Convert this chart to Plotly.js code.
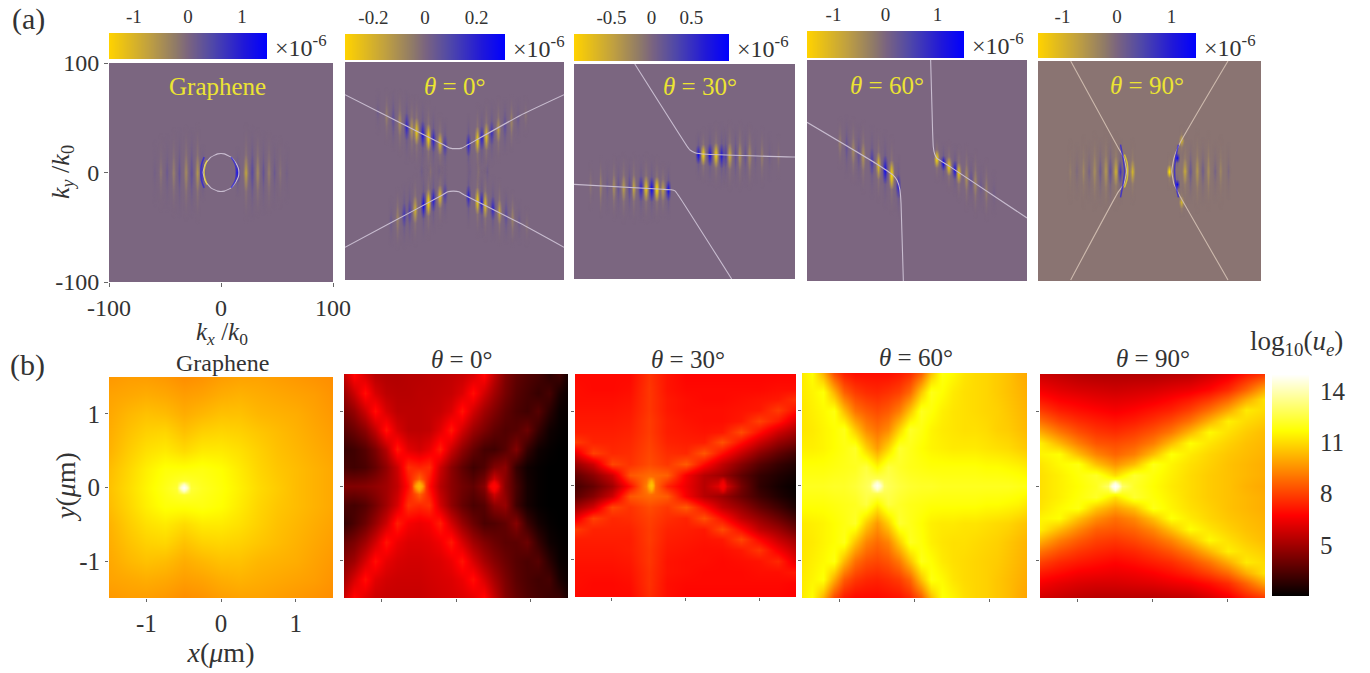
<!DOCTYPE html>
<html><head><meta charset="utf-8">
<script src="https://cdn.plot.ly/plotly-3.0.1.min.js"></script>
<style>html,body{margin:0;padding:0;background:#fff;overflow:hidden}</style>
</head><body><div id="chart" style="width:1370px;height:673px"></div>
<script>
// ---------- tick labels ----------
const kTicks=[-100,0,100], kLabels=['-100','0','100'];
const uTicks=[-1,0,1], uLabels=['-1','0','1'];
const logTicks=[5,8,11,14], logLabels=['5','8','11','14'];
const cbTicks=[[-1,0,1],[-0.2,0,0.2],[-0.5,0,0.5],[-1,0,1],[-1,0,1]];
const cbLabels=[['-1','0','1'],['-0.2','0','0.2'],['-0.5','0','0.5'],['-1','0','1'],['-1','0','1']];
const cbRange=[1.46,0.31,0.97,1.51,1.45];
const panelNames=['Graphene','<i>θ</i> = 0°','<i>θ</i> = 30°','<i>θ</i> = 60°','<i>θ</i> = 90°'];

// ---------- (a) dispersion contours [kx],[ky] ----------
const lines0=[[[-16,-14,-9,-3,3,9,13,15.5,16,15.5,13,9,3,-3,-9,-14,-16],[0,8,14,17,17,14,9,4,0,-4,-9,-14,-17,-17,-14,-8,0]]];
const lines1=[[[-100,-59,-10,-4,1,6.6,12,60,100],[70,49,24,21,20.5,21,24,51,70]],[[-100,-59,-11,-6,-1,4,9,60,100],[-70,-48,-22,-19,-18.5,-19,-22,-48,-70]]];
const lines2=[[[-45,2,5,9.5,20,98,100],[100,24,20,17.5,16,13.5,13.5]],[[-100,-20,-12,-8.6,-5,42.7],[-12,-16.5,-17,-18,-23,-100]]];
const lines3=[[[12.4,14.2,14.8,16,18,30,100],[100,35,21.5,15,11.3,3.5,-43]],[[-100,-38,-22,-18,-15.5,-14.5,-12.4],[43.6,6.8,-4,-9,-17.6,-30,-100]]];
const lines4=[[[-70.7,-28,-23,-20.5,-23,-28,-70.7],[100,21,12,0,-12,-19,-99]],[[70.4,27.4,22,20,22,27.4,70.4],[100,25.5,12,0,-12,-23,-99]]];
const panelLines=[lines0,lines1,lines2,lines3,lines4];

// ---------- (a) coloured crescents on the contours: [kx],[ky],sign ----------
const arcs0=[[[-15,-17.5,-18,-17.5,-15],[14,7,0,-7,-14],1],[[-12.5,-14.5,-15,-14.5,-12.5],[11,5,0,-5,-11],-1],[[9,12.5,14,12.5,9],[14,8,0,-8,-14],1]];
const arcs4=[[[-26,-23.5,-22.5,-23.5,-26],[24,10,0,-10,-24],1],[[-22.5,-20,-19.5,-20,-22.5],[15,7,0,-7,-15],-1],[[26,23.5,22.5,23.5,26],[24,12,0,-12,-24],1]];
const panelArcs=[arcs0,[],[],[],arcs4];

// ---------- (a) interference fringes: [kx, ky, half height, amplitude] ----------
const fringes0=[[-17,0,22,.6],[14,0,20,.8],[-21.7,0,38,-.4],[-27,0,34,.25],[-32,0,36,-.3],[-38,0,34,.2],[-43,0,34,-.22],[-49,0,30,.16],[-54.5,0,30,-.16],[-60,0,26,.1],[21.5,0,38,-.5],[27,0,36,.3],[32,0,34,-.3],[37,0,32,.2],[42,0,32,-.22],[47,0,28,.16],[52,0,28,-.14],[58,0,24,.1]];
const fringes1=[[-8.7,23.4,22,.5],[-13.3,25.7,24,-.7],[-19.3,28.8,26,.7],[-23.9,31,28,-.9],[-29,33.8,28,.85],[-34.6,36.6,28,-.8],[-43.7,41,28,.7],[-39,39,26,-.45],[-50,44.5,26,-.35],[-56,47.5,24,.25],[-62,50.6,22,-.22],[-70,54.7,18,.14],
[12.7,24.4,24,.7],[20.9,28.6,28,-.8],[24.9,30.6,26,.7],[29,32.2,28,-.7],[34,35.3,26,.55],[40,38.3,26,-.45],[46,41.4,22,.28],[52,44.5,22,-.24],[58,47.5,18,.16],[65,51,16,-.14],
[-8.7,-21,22,.45],[-13.3,-23,24,-.75],[-19.3,-26,26,.75],[-23.9,-28.5,28,-.9],[-28.4,-31,28,.9],[-36,-35,28,-.6],[-41,-37,26,.4],[-46,-40,26,.5],[-52,-43,24,-.25],[-58,-46,20,.16],
[12.7,-23,24,.7],[20.9,-27,28,-.8],[24.9,-29,26,.8],[28,-30.5,28,-.7],[35,-34,26,.7],[41,-37,26,-.5],[47,-40,22,.28],[53,-43,22,-.24],[59,-46,18,.16],[66,-50,16,-.14],
[-30,0,18,.12],[-22,0,18,-.12],[-14,0,16,.1],[14,0,16,.1],[22,0,18,-.12],[30,0,18,.12]];
const fringes2=[[12.5,16,20,.9],[17,16,22,-.9],[23,15.5,24,.9],[28.5,15.5,26,-.9],[33.6,15,26,.8],[37,15,24,.4],[41,15,28,-.6],[46,15,24,.25],[50,15,28,-.4],[55,15,24,.2],[59,14.5,26,-.3],[64,14,22,.14],[70,14,24,-.22],[77,14,20,.12],[85,14,18,-.14],
[-14.6,-17,22,.9],[-19.5,-16.5,22,-.5],[-25,-16,26,-1],[-29.7,-16,26,.95],[-34.8,-15.5,28,-.8],[-39.4,-15.5,26,.7],[-46,-15,28,-.55],[-50,-15,24,.3],[-55,-15,28,-.45],[-60,-14.5,24,.2],[-64,-14.5,26,-.35],[-70,-14,22,.15],[-76,-14,24,-.25],[-85,-13,20,-.15]];
const fringes3=[[-17,-14,24,.7],[-23,-4,30,-1],[-29,.5,30,.95],[-35,5,28,-.7],[-41,8.5,28,.5],[-49,13,28,-.4],[-53,15,24,.22],[-58,18,26,-.3],[-64,22,24,.22],[-70,25,20,-.22],
[18,11,18,-1],[24,7,16,1],[29,4,20,-.9],[34.5,1,20,.9],[38,-2,22,-.8],[45,-6,26,-.35],[49,-8,20,.22],[53,-11,26,-.3],[58,-14,20,.16],[63,-17,24,-.22],[70,-20,18,.12]];
const fringes4=[[-16,0,25,-.6],[-31,0,30,-.55],[-27,0,25,.55],[-36,0,28,.3],[-40,0,32,-.35],[-45,0,26,.22],[-50,0,30,-.25],[-55,0,24,.16],[-60,0,28,-.2],[-66,0,22,.12],[-72,0,25,-.14],
[17,0,14,-1],[24,12,10,1],[24,-12,10,1],[31,0,28,-.5],[36,0,24,.25],[42,0,32,-.35],[47,0,26,.2],[52,0,30,-.25],[58,0,24,.16],[63,0,28,-.2],[70,0,22,.12],[28,28,12,-.6],[28,-28,12,-.6]];
const panelFringes=[fringes0,fringes1,fringes2,fringes3,fringes4];

// ---------- (b) log10(u_e) grids, rows listed top to bottom ----------
const xGridCoarse=[-1.5,-1.25,-1,-.75,-.5,-.25,0,.25,.5,.75,1,1.25,1.5];
const yGridCoarse=[1.5,1.25,1,.75,.5,.25,0,-.25,-.5,-.75,-1,-1.25,-1.5];
const xGridSteep=[-1.515,-1.37,-1.225,-1.08,-.935,-.79,-.645,-.5,-.355,-.21,-.065,.08,.225,.37,.515,.66,.805,.95,1.095,1.24,1.385,1.53];
const yGridFlat=[1.5,1.305,1.16,1.015,.87,.725,.58,.435,.29,.145,0,-.145,-.29,-.435,-.58,-.725,-.87,-1.015,-1.16,-1.305,-1.5];
const uGraphene=[
[9.7,9.8,9.8,9.7,9.5,9.6,9.8,9.9,9.9,9.8,9.7,9.6,9.5],
[9.9,10,10.1,10,9.8,9.9,10.1,10.2,10.1,10,9.9,9.8,9.6],
[10,10.3,10.5,10.4,10.1,10.3,10.5,10.5,10.3,10.2,10.1,9.9,9.7],
[10.1,10.5,10.8,10.9,10.5,10.8,10.9,10.8,10.6,10.4,10.2,10,9.8],
[10.2,10.7,11.1,11.3,11,11.3,11.3,11.1,10.8,10.5,10.3,10.1,9.9],
[10.4,10.9,11.4,11.8,11.8,11.9,11.7,11.3,10.9,10.6,10.4,10.2,10],
[10.5,11,11.5,12,12.6,12.1,11.8,11.4,11,10.7,10.4,10.2,10],
[10.4,10.9,11.4,11.8,11.8,11.9,11.7,11.3,10.9,10.6,10.4,10.2,10],
[10.2,10.7,11.1,11.3,11,11.3,11.3,11.1,10.8,10.5,10.3,10.1,9.9],
[10.1,10.5,10.8,10.9,10.5,10.8,10.9,10.8,10.6,10.4,10.2,10,9.8],
[10,10.3,10.5,10.4,10.1,10.3,10.5,10.5,10.3,10.2,10.1,9.9,9.7],
[9.9,10,10.1,10,9.8,9.9,10.1,10.2,10.1,10,9.9,9.8,9.6],
[9.7,9.8,9.8,9.7,9.5,9.6,9.8,9.9,9.9,9.8,9.7,9.6,9.5]];
const uTheta0=[
[5.6,6.9,6.0,5.4,5.3,5.3,5.4,5.4,5.5,5.5,5.6,5.7,6.0,6.9,5.6,4.4,3.8,3.5,3.3,2.8,3.2,2.2],
[4.8,5.8,7.0,6.0,5.5,5.4,5.4,5.5,5.5,5.6,5.7,6.1,7.0,5.9,5.0,4.2,3.6,3.3,3.0,3.3,2.5,2.1],
[4.2,4.8,5.8,7.0,6.0,5.5,5.5,5.5,5.6,5.7,6.1,7.1,5.9,5.0,4.4,3.8,3.4,3.2,3.6,2.8,2.2,2.1],
[3.6,4.0,4.6,5.6,7.1,6.0,5.5,5.5,5.6,6.2,7.2,5.9,4.9,4.3,3.8,3.5,3.6,4.0,3.0,2.3,2.1,2.0],
[3.0,3.2,3.6,4.3,5.4,7.2,6.2,5.9,6.3,7.3,5.8,4.7,3.9,3.3,3.2,3.6,4.4,3.0,2.3,2.1,2.0,2.0],
[3.3,3.2,3.4,3.9,4.7,5.8,7.6,7.4,7.6,5.8,4.6,3.8,3.2,3.5,4.4,4.6,3.0,2.3,2.1,2,2,2],
[4.4,4.4,4.5,4.7,5.0,5.6,7.0,9.5,7.0,5.4,4.6,4.1,3.8,4.5,6.8,4.5,3.3,2.4,2.1,2,2,2],
[3.4,3.3,3.6,4.2,5.0,6.0,7.7,7.5,7.7,5.9,4.7,3.9,3.4,3.6,4.6,4.8,3.2,2.4,2.1,2,2,2],
[2.9,3.4,4.0,4.8,5.8,7.3,6.6,6.4,6.6,7.3,5.9,4.8,4.0,3.4,3.5,3.8,4.5,3.1,2.4,2.1,2,2],
[3.9,4.3,5.0,5.9,7.1,6.4,6.1,6.1,6.2,6.5,7.2,6.0,5.0,4.4,4.0,3.7,3.7,4.0,3.0,2.3,2.1,2],
[4.5,5.0,6.0,7.0,6.3,6.0,5.9,5.9,6.0,6.1,6.4,7.1,6.0,5.1,4.5,4.0,3.6,3.4,3.6,2.8,2.2,2.1],
[5.0,6.0,7.0,6.2,5.9,5.8,5.8,5.8,5.9,6.0,6.1,6.4,7.0,6.0,5.1,4.3,3.7,3.4,3.2,3.3,2.5,2.1],
[5.8,6.9,6.2,5.8,5.7,5.7,5.7,5.7,5.8,5.9,6.0,6.1,6.3,6.9,5.7,4.5,3.9,3.5,3.3,3.1,3.1,2.3]];
const uTheta30=[
[6.9,6.9,6.9,6.9,7.7,7.1,6.8,6.8,6.8,6.8,6.8,6.8,6.8],
[7.0,6.9,6.9,7.0,7.8,7.1,6.9,6.9,6.9,6.9,6.9,7.0,7.0],
[7.0,7.0,7.0,7.1,7.8,7.2,7.0,6.9,6.9,7.0,7.1,7.2,7.7],
[7.1,7.1,7.1,7.2,7.8,7.2,7.0,7.0,7.0,7.1,7.2,7.9,7.0],
[7.2,7.2,7.2,7.3,7.9,7.3,7.1,7.0,7.0,7.2,8.0,7.2,6.0],
[7.3,7.3,7.3,7.4,7.9,7.3,7.2,7.1,7.2,8.2,7.0,5.8,5.0],
[7.9,7.4,7.4,7.5,8.0,7.4,7.3,7.3,8.3,7.0,5.8,4.8,4.2],
[6.2,8.0,7.5,7.6,8.1,7.6,7.5,8.4,7.0,5.7,4.6,3.8,3.2],
[4.8,5.8,8.1,7.7,8.2,7.8,8.5,6.9,5.6,4.5,3.6,3.0,2.6],
[3.8,4.6,5.8,8.4,8.8,8.6,6.6,5.4,4.9,3.8,3.0,2.6,2.3],
[3.3,3.9,5.0,7.0,9.6,7.4,6.4,5.4,6.4,4.2,2.9,2.4,2.1],
[3.7,4.5,5.8,8.4,8.8,8.5,6.6,5.4,4.9,4.0,3.2,2.6,2.2],
[4.9,5.9,8.1,7.7,8.2,7.8,8.5,7.0,5.6,4.8,3.9,3.2,2.5],
[6.3,8.0,7.5,7.6,8.0,7.6,7.4,8.3,7.0,5.6,4.8,4.0,3.2],
[7.9,7.4,7.4,7.4,7.9,7.4,7.3,7.2,8.2,6.9,5.6,4.9,4.0],
[7.3,7.3,7.3,7.3,7.9,7.3,7.2,7.1,7.2,8.1,6.8,5.7,4.9],
[7.2,7.2,7.2,7.3,7.8,7.2,7.1,7.0,7.0,7.2,7.8,6.6,5.6],
[7.1,7.1,7.1,7.2,7.8,7.1,7.0,7.0,6.9,7.0,7.1,7.5,6.2],
[7.0,7.0,7.0,7.1,7.7,7.1,7.0,6.9,6.9,6.9,7.0,7.0,7.2],
[7.0,6.9,6.9,7.0,7.7,7.0,6.9,6.9,6.9,6.9,6.9,6.9,6.8],
[6.9,6.9,6.9,6.9,7.6,7.0,6.8,6.8,6.8,6.8,6.8,6.8,6.7]];
const uTheta60=[
[11.3,11.7,10.2,8.2,7.3,7.0,7.0,7.0,7.0,7.2,7.6,8.6,10.5,11.9,11.6,11.2,11,10.9,10.7,10.5,10.2,10],
[11.3,11.5,11.8,10.2,8.6,7.9,7.6,7.5,7.7,8.0,8.8,10.6,12.0,11.7,11.3,11.1,11,10.9,10.7,10.5,10.3,10.1],
[11.2,11.4,11.6,11.9,10.4,9.0,8.5,8.2,8.5,9.2,10.6,12.1,11.8,11.4,11.2,11.1,11.0,10.9,10.8,10.6,10.4,10.2],
[11.2,11.3,11.5,11.7,12.0,10.6,9.4,8.9,9.4,10.8,12.2,11.9,11.5,11.3,11.2,11.1,11.1,11,10.8,10.7,10.5,10.3],
[11.4,11.4,11.5,11.7,11.9,12.2,10.8,9.8,10.9,12.3,12.0,11.7,11.5,11.4,11.3,11.3,11.3,11.2,11.1,11,10.8,10.6],
[11.8,11.8,11.8,11.9,12.0,12.1,12.5,11.6,12.5,12.2,12.0,11.9,11.8,11.8,11.8,11.8,11.8,11.7,11.7,11.6,11.5,11.3],
[12.1,12.1,12.1,12.2,12.2,12.4,12.8,13.5,12.8,12.5,12.3,12.2,12.2,12.1,12.1,12.1,12.1,12.1,12.1,12.1,12,11.9],
[11.8,11.8,11.8,11.9,12.0,12.1,12.5,11.5,12.5,12.2,12.0,11.9,11.8,11.8,11.8,11.8,11.8,11.7,11.7,11.6,11.5,11.2],
[11.3,11.4,11.5,11.7,11.9,12.2,10.7,9.7,10.8,12.3,12.0,11.7,11.4,11.3,11.3,11.2,11.2,11.1,11,10.9,10.7,10.5],
[11.2,11.3,11.5,11.7,12.0,10.5,9.3,8.8,9.3,10.7,12.1,11.8,11.4,11.2,11.1,11.1,11,10.9,10.8,10.6,10.4,10.2],
[11.2,11.4,11.6,11.9,10.3,8.9,8.3,8.1,8.4,9.1,10.5,12.0,11.7,11.3,11.1,11,10.9,10.8,10.7,10.5,10.3,10.1],
[11.3,11.5,11.8,10.1,8.5,7.8,7.5,7.4,7.6,7.9,8.7,10.5,11.9,11.6,11.2,11,10.9,10.8,10.6,10.4,10.2,10],
[11.3,11.7,10.2,8.1,7.2,6.9,6.9,6.9,7.0,7.1,7.5,8.5,10.4,11.8,11.5,11.1,10.9,10.8,10.6,10.4,10.1,9.9]];
const uTheta90=[
[5.8,5.6,5.4,5.3,5.3,5.3,5.3,5.4,5.5,5.9,6.4,7.2,7.8],
[6.5,6.2,6.0,5.9,5.8,5.9,6.0,6.2,6.4,6.8,7.5,8.6,10.0],
[7.1,6.7,6.5,6.3,6.2,6.3,6.5,6.8,7.2,7.8,8.7,10.0,11.2],
[7.9,7.3,7.0,6.8,6.6,6.8,7.1,7.4,8.0,8.9,10.0,11.3,11.0],
[8.9,8.1,7.6,7.3,7.1,7.3,7.7,8.2,9.0,10.2,11.4,11.0,10.7],
[10.1,9.1,8.3,7.8,7.6,7.9,8.4,9.1,10.3,11.6,11.1,10.7,10.4],
[11.4,10.3,9.2,8.4,8.2,8.5,9.2,10.4,11.7,11.2,10.8,10.5,10.3],
[11.5,11.7,10.4,9.3,8.7,9.2,10.4,11.8,11.3,10.9,10.6,10.4,10.2],
[11.2,11.6,11.9,10.5,9.6,10.4,12.0,11.5,11.1,10.8,10.5,10.3,10.1],
[11.1,11.4,11.8,12.2,11,12.3,11.8,11.4,11,10.7,10.5,10.3,10.1],
[11.1,11.4,11.7,12.1,13.6,12.2,11.7,11.3,11,10.7,10.5,10.2,10],
[11.1,11.4,11.8,12.2,11.1,12.3,11.8,11.4,11,10.7,10.5,10.3,10.1],
[11.2,11.6,11.9,10.6,9.8,10.5,12,11.5,11.1,10.8,10.5,10.3,10.1],
[11.5,11.7,10.5,9.5,8.9,9.4,10.5,11.8,11.3,10.9,10.6,10.4,10.2],
[11.4,10.4,9.4,8.6,8.4,8.7,9.4,10.5,11.7,11.2,10.8,10.5,10.3],
[10.2,9.2,8.5,8,7.8,8.1,8.6,9.3,10.4,11.6,11.1,10.7,10.4],
[9,8.3,7.8,7.5,7.3,7.5,7.9,8.4,9.2,10.3,11.4,11,10.7],
[8,7.5,7.2,7,6.8,7,7.3,7.6,8.2,9,10.1,11.3,11],
[7.2,6.9,6.6,6.5,6.4,6.5,6.7,7,7.4,8,8.8,10.1,11.2],
[6.6,6.3,6.1,6,6,6.1,6.2,6.4,6.6,7,7.6,8.7,10],
[5.9,5.7,5.5,5.4,5.4,5.4,5.4,5.5,5.6,6,6.5,7.3,7.8]];
const uGrids=[uGraphene,uTheta0,uTheta30,uTheta60,uTheta90];
const xGrids=[xGridCoarse,xGridSteep,xGridCoarse,xGridSteep,xGridCoarse];
const yGrids=[yGridCoarse,yGridCoarse,yGridFlat,yGridCoarse,yGridFlat];
// bright source spots: [x, y, log10 u]
const spots=[[[-.5,0,15]],[[-.5,0,10.3],[.5,0,6.8]],[[-.47,0,10.6],[.5,0,6.6]],[[-.5,0,14.8]],[[-.5,0,15]]];

// ---------- geometry (pixels) and style ----------
const W=1370,H=673,SERIF='"Liberation Serif","Times New Roman",serif',INK='#333333';
const topBoxes=[[109,333,63,282],[345,564,62,280],[574,795,64,279],[807,1027,60,281],[1038,1261,61,281]];
const cbBoxes=[[109,267,33,59],[345,505,34,60],[574,729,34,61],[807,964,31,58],[1038,1196,33,58]];
const botBoxes=[[109,333,377,598],[344,568,374,598],[575,796,374,597],[802,1027,373,598],[1040,1265,374,598]];
const logBox=[1272,1309,374,596];
const bgColors=['#7b6680','#7b6680','#7b6680','#7c6680','#8a7472'];
const lineColors=['#c8bccf','#c8bccf','#c8bccf','#c8bccf','#cdb9ad'];
const divScale=[[0,'#ffd200'],[.25,'#c0a040'],[.42,'#8f7a68'],[.5,'#7a6480'],[.65,'#5048a8'],[.85,'#2018d8'],[1,'#0000ff']];
const fringeScale=[[0,'rgba(255,225,0,1)'],[.25,'rgba(230,200,20,.7)'],[.42,'rgba(200,170,70,.28)'],[.5,'rgba(123,102,128,0)'],[.58,'rgba(60,50,190,.28)'],[.75,'rgba(40,30,210,.7)'],[1,'rgba(0,0,255,1)']];
const hotScale=[[0,'#000000'],[.365,'#ff0000'],[.746,'#ffff00'],[1,'#ffffff']];
function hotRGB(z){const t=(z-2)/13;const r=Math.min(1,t/.365),g=Math.max(0,Math.min(1,(t-.365)/.381)),b=Math.max(0,(t-.746)/.254);return [r,g,b].map(v=>Math.round(v*255)).join(',');}

const traces=[];const annotations=[];
const layout={width:W,height:H,margin:{l:0,r:0,t:0,b:0},paper_bgcolor:'#ffffff',plot_bgcolor:'#ffffff',showlegend:false,font:{family:SERIF,color:INK},annotations};
function setAxes(n,box,xo,yo){
  layout['xaxis'+n]=Object.assign({domain:[box[0]/W,box[1]/W],anchor:'y'+n,showgrid:false,zeroline:false,fixedrange:true},xo);
  layout['yaxis'+n]=Object.assign({domain:[1-box[3]/H,1-box[2]/H],anchor:'x'+n,showgrid:false,zeroline:false,fixedrange:true},yo);
}
function note(text,px,py,size,color,extra){annotations.push(Object.assign({text,x:px/W,y:1-py/H,xref:'paper',yref:'paper',showarrow:false,xanchor:'center',yanchor:'middle',font:{family:SERIF,size,color}},extra||{}));}
const hidden={visible:false};
const TICK=25, CLEAR='rgba(0,0,0,0)';
let n=1;
// ----- row (a) -----
for(let p=0;p<5;p++){
  const ax={xaxis:'x'+n,yaxis:'y'+n};
  const isFirst=p===0;
  const kAxis={tickmode:'array',tickvals:kTicks,ticktext:kLabels,ticks:'outside',ticklen:4,tickcolor:'#666',tickfont:{size:TICK-1,color:INK,family:SERIF}};
  setAxes(n,topBoxes[p],
   Object.assign({range:[-100,100]},isFirst?kAxis:{showticklabels:false,ticks:''}),
   Object.assign({range:[-100,100]},isFirst?kAxis:{showticklabels:false,ticks:''}));
  traces.push(Object.assign({type:'heatmap',x:[-100,100],y:[-100,100],z:[[0,0],[0,0]],colorscale:[[0,bgColors[p]],[1,bgColors[p]]],showscale:false,hoverinfo:'skip'},ax));
  panelFringes[p].forEach(f=>{
    const [fx,fy,fh,fa]=f, w=2.7, h=fh*1.25;
    const mid=Math.sign(fa)*Math.min(.55*Math.abs(fa),.14);
    traces.push(Object.assign({type:'heatmap',zsmooth:'best',x:[fx-w,fx,fx+w],y:[fy-h,fy-.35*h,fy,fy+.35*h,fy+h],
      z:[[0,0,0],[0,mid,0],[0,fa,0],[0,mid,0],[0,0,0]],zmin:-1,zmax:1,colorscale:fringeScale,showscale:false,hoverinfo:'skip'},ax));
  });
  panelLines[p].forEach(l=>traces.push(Object.assign({type:'scatter',mode:'lines',x:l[0],y:l[1],line:{color:lineColors[p],width:1.1,shape:'spline',smoothing:.4},hoverinfo:'skip'},ax)));
  panelArcs[p].forEach(a=>traces.push(Object.assign({type:'scatter',mode:'lines',opacity:.7,x:a[0],y:a[1],line:{color:a[2]>0?'#2a20e0':'#f2e020',width:1.5,shape:'spline'},hoverinfo:'skip'},ax)));
  n++;
  // colour bar above the panel
  const r=cbRange[p];
  setAxes(n,cbBoxes[p],{range:[-r,r],side:'top',tickmode:'array',tickvals:cbTicks[p],ticktext:cbLabels[p],ticks:'outside',ticklen:1,tickcolor:CLEAR,tickfont:{size:19,color:INK,family:SERIF}},Object.assign({range:[0,1]},hidden));
  traces.push({type:'heatmap',zsmooth:'best',x:[-r,r],y:[0,1],z:[[-r,r],[-r,r]],zmin:-r,zmax:r,colorscale:divScale,showscale:false,hoverinfo:'skip',xaxis:'x'+n,yaxis:'y'+n});
  note('×10<sup>-6</sup>',cbBoxes[p][1]+34,cbBoxes[p][2]+13,24,INK);
  n++;
}
note('<i>k</i><sub><i>x</i></sub> /<i>k</i><sub>0</sub>',222,333,25,INK);
note('<i>k</i><sub><i>y</i></sub> /<i>k</i><sub>0</sub>',62,172,26,INK,{textangle:-90});
note('Graphene',217,86,25,'#ece432');
note(panelNames[1],454,87,25,'#ece432');
note(panelNames[2],700,87,25,'#ece432');
note(panelNames[3],887,85,25,'#ece432');
note(panelNames[4],1147,85,25,'#ece432');
// ----- row (b) -----
const titleX=[222,461,688,916,1153],titleY=[363,359,359,357,358];
for(let p=0;p<5;p++){
  const isFirst=p===0;
  const tickBase={range:[-1.5,1.5],tickmode:'array',tickvals:uTicks,ticktext:uLabels,ticks:'outside',ticklen:3,tickcolor:'#666'};
  setAxes(n,botBoxes[p],
    Object.assign({},tickBase,isFirst?{tickfont:{size:TICK,color:INK,family:SERIF},title:{text:'<i>x</i>(<i>μ</i>m)',font:{size:28,color:INK,family:SERIF},standoff:4}}:{showticklabels:false}),
    Object.assign({},tickBase,isFirst?{tickfont:{size:TICK,color:INK,family:SERIF}}:{showticklabels:false}));
  const ax={xaxis:'x'+n,yaxis:'y'+n};
  traces.push(Object.assign({type:'heatmap',zsmooth:'best',x:xGrids[p],y:yGrids[p].slice().reverse(),z:uGrids[p].slice().reverse(),zmin:2,zmax:15,colorscale:hotScale,showscale:false,hoverinfo:'skip'},ax));
  spots[p].forEach(s=>{
    const c=hotRGB(s[2]),rx=p===2?.06:.09,ry=p===2?.12:.1;
    traces.push(Object.assign({type:'heatmap',zsmooth:'best',x:[s[0]-rx,s[0],s[0]+rx],y:[s[1]-ry,s[1],s[1]+ry],z:[[0,0,0],[0,1,0],[0,0,0]],zmin:0,zmax:1,colorscale:[[0,'rgba('+c+',0)'],[.5,'rgba('+c+',.7)'],[1,'rgba('+c+',1)']],showscale:false,hoverinfo:'skip'},ax));
  });
  note(panelNames[p],titleX[p],titleY[p],isFirst?24:25,INK);
  n++;
}
note('<i>y</i>(<i>μ</i>m)',65,487,28,INK,{textangle:-90});
// log colour bar
setAxes(n,logBox,Object.assign({range:[0,1]},hidden),{range:[2,15],side:'right',tickmode:'array',tickvals:logTicks,ticktext:logLabels,ticks:'outside',ticklen:5,tickcolor:CLEAR,tickfont:{size:TICK,color:INK,family:SERIF}});
traces.push({type:'heatmap',zsmooth:'best',x:[0,1],y:[2,15],z:[[2,2],[15,15]],zmin:2,zmax:15,colorscale:hotScale,showscale:false,hoverinfo:'skip',xaxis:'x'+n,yaxis:'y'+n});
note('log<sub>10</sub>(<i>u</i><sub><i>e</i></sub>)',1296,343,27,INK);
note('(a)',28,19,30,INK);
note('(b)',27,365,30,INK);
Plotly.newPlot('chart',traces,layout,{displayModeBar:false,staticPlot:true});
</script></body></html>
